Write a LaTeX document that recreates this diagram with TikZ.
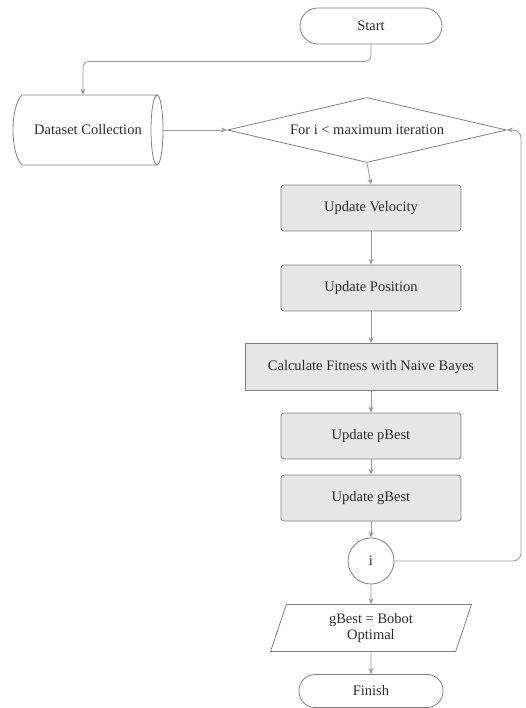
\documentclass[tikz,border=0pt]{standalone}
\usepackage{fontspec}
\setmainfont{Liberation Serif}
\usetikzlibrary{shapes.geometric,arrows.meta}
\definecolor{edgegray}{HTML}{9A9A9A}
\definecolor{bordergray}{HTML}{7F7F7F}
\definecolor{boxfill}{HTML}{E6E6E6}
\definecolor{txt}{HTML}{2A2A2A}
\begin{document}
\begin{tikzpicture}[x=1pt,y=-1pt,
  base/.style={draw=bordergray, line width=0.8pt, text=txt, font=\fontsize{14.5}{16}\selectfont, inner sep=0pt, align=center},
  term/.style={base, rounded corners=18pt, minimum width=142pt, minimum height=36pt},
  proc/.style={base, fill=boxfill, rounded corners=3pt, minimum width=180pt, minimum height=46pt},
  calc/.style={base, fill=boxfill, minimum width=252pt, minimum height=47pt},
  arr/.style={draw=edgegray, line width=0.8pt, -{Stealth[length=6pt,width=5pt]}},
  outline/.style={draw=bordergray, line width=0.8pt}
]
\useasboundingbox (0,0) rectangle (525,708);

\node[term] (start) at (371,26) {Start};
% stored-data (horizontal cylinder)
\node[base, draw=none, minimum width=150pt, minimum height=70pt] (ds) at (88,130) {Dataset Collection};
\draw[outline] (157,95) -- (22,95) .. controls (10,107) and (10,153) .. (22,165) -- (157,165);
\draw[outline] (157,130) ellipse [x radius=6pt, y radius=35pt];

\node[base, diamond, aspect=4.3, minimum width=279pt, minimum height=65pt] (dia) at (367,130) {For i < maximum iteration};
\node[proc] (vel) at (371,208) {Update Velocity};
\node[proc] (pos) at (371,288) {Update Position};
\node[calc] (fit) at (371,367) {Calculate Fitness with Naive Bayes};
\node[proc] (pb) at (371,436) {Update pBest};
\node[proc] (gb) at (371,498) {Update gBest};
\node[base, circle, minimum size=46pt] (i) at (371,561) {i};
\node[base, trapezium, trapezium left angle=75, trapezium right angle=105, trapezium stretches=true, minimum width=202pt, minimum height=47pt] (out) at (371,628) {gBest = Bobot\\Optimal};
\node[term, minimum height=33pt, rounded corners=16pt, minimum width=144pt] (fin) at (371,691) {Finish};

\draw[arr, rounded corners=6pt] (start.south) -- ++(0,17) -| ([xshift=-5pt]ds.north);
\draw[arr] (ds.east) -- (dia.west);
\draw[arr] (dia.south) -- (vel.north);
\draw[arr] (vel.south) -- (pos.north);
\draw[arr] (pos.south) -- (fit.north);
\draw[arr] (fit.south) -- (pb.north);
\draw[arr] (pb.south) -- (gb.north);
\draw[arr] (gb.south) -- (i.north);
\draw[arr, rounded corners=8pt] (i.east) -- (521,561) -- (521,130) -- (dia.east);
\draw[arr] (i.south) -- (out.north);
\draw[arr] (out.south) -- (fin.north);
\end{tikzpicture}
\end{document}
